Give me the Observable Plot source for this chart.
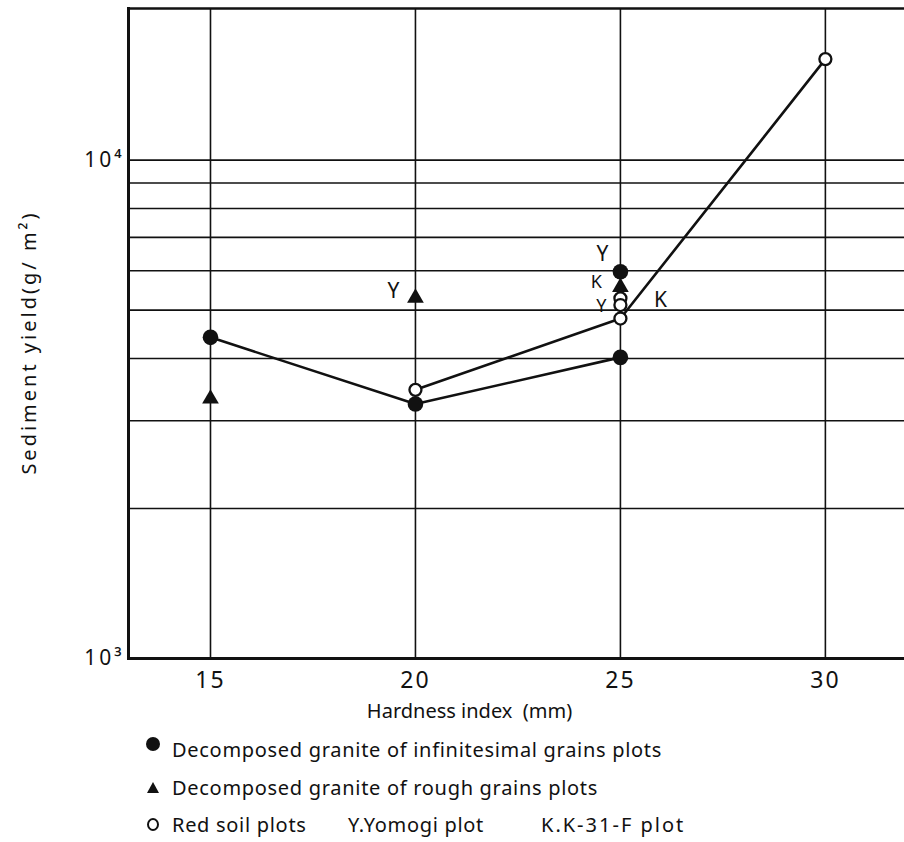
<!DOCTYPE html>
<html><head><meta charset="utf-8">
<script src="https://cdn.jsdelivr.net/npm/d3@7"></script>
<script src="https://cdn.jsdelivr.net/npm/@observablehq/plot@0.6"></script>
<style>
body{margin:0;background:#fff;font-family:"Noto Sans",sans-serif;}
#wrap{position:relative;width:904px;height:842px;overflow:hidden;}
.leg{position:absolute;font-size:20px;line-height:20px;color:#111;white-space:pre;letter-spacing:0.7px;}
.sym{position:absolute;}
</style></head><body><div id="wrap"></div>
<script>
// ---- data ----
const xTicks = [15, 20, 25, 30];
const yGrid = [2000, 3000, 4000, 5000, 6000, 7000, 8000, 9000, 10000];
const yTickValues = [1000, 10000];
const yTickLabels = ["10³", "10⁴"];

// Decomposed granite of infinitesimal grains plots (filled circles)
const fineX = [15, 20, 25, 25];
const fineY = [4410, 3240, 4020, 5970];
const fineTag = ["", "", "", "Y"];

// Decomposed granite of rough grains plots (triangles)
const roughX = [15, 20, 25];
const roughY = [3320, 5290, 5560];
const roughTag = ["", "Y", "K"];

// Red soil plots (open circles)
const redX = [20, 25, 25, 25, 30];
const redY = [3460, 4810, 5280, 5120, 15950];
const redTag = ["", "", "K", "Y", ""];

const xLabel = "Hardness index  (mm)";
const yLabel = "Sediment yield(g/ m²)";
const legendLines = [
  ["Decomposed granite of infinitesimal grains plots"],
  ["Decomposed granite of rough grains plots"],
  ["Red soil plots", "Y.Yomogi plot", "K.K-31-F plot"]
];

// ---- build tables ----
const mk = (xs, ys, tags, series) => xs.map((x, i) => ({x, y: ys[i], tag: tags[i], series}));
const fine = mk(fineX, fineY, fineTag, "fine");
const rough = mk(roughX, roughY, roughTag, "rough");
const red = mk(redX, redY, redTag, "red");
const lineData = [...fine, ...red].filter(d => d.tag === "");

const ink = "#111";
const chart = Plot.plot({
  width: 904, height: 730,
  marginLeft: 128, marginRight: 0, marginTop: 8, marginBottom: 72,
  style: {fontFamily: "Noto Sans", fontSize: "21px", color: ink, background: "white", overflow: "visible"},
  x: {domain: [13, 31.93]},
  y: {type: "log", domain: [1000, 20150]},
  marks: [
    Plot.ruleX(xTicks, {stroke: ink, strokeWidth: 1.6}),
    Plot.ruleY(yGrid, {stroke: ink, strokeWidth: 1.6}),
    Plot.frame({anchor: "left", stroke: ink, strokeWidth: 3}),
    Plot.frame({anchor: "bottom", stroke: ink, strokeWidth: 3}),
    Plot.frame({anchor: "top", stroke: ink, strokeWidth: 2.6}),
    Plot.axisX({ticks: xTicks, tickSize: 0, tickPadding: 13, label: null, fontSize: 23}),
    Plot.axisY({ticks: yTickValues, tickFormat: d => yTickLabels[yTickValues.indexOf(d)], tickSize: 0, tickPadding: 4, label: null, fontSize: 21}),
    Plot.text([xLabel], {frameAnchor: "bottom", textAnchor: "middle", lineAnchor: "middle", dx: -47, dy: 53, fontSize: 20}),
    Plot.text([yLabel], {frameAnchor: "left", textAnchor: "middle", lineAnchor: "middle", dx: -99, dy: 9, rotate: -90, fontSize: 20}),
    Plot.line(lineData, {x: "x", y: "y", z: "series", stroke: ink, strokeWidth: 2.6}),
    Plot.dot(rough, {x: "x", y: "y", symbol: "triangle", r: 6.2, fill: ink, stroke: "none"}),
    Plot.dot(red, {x: "x", y: "y", r: 6, fill: "white", stroke: ink, strokeWidth: 2.3}),
    Plot.dot(fine, {x: "x", y: "y", r: 7.8, fill: ink, stroke: "none"}),
    // point labels
    Plot.text(rough.filter(d => d.tag === "Y"), {x: "x", y: "y", text: "tag", dx: -22, dy: -7, fontSize: 21}),
    Plot.text(fine.filter(d => d.tag === "Y"), {x: "x", y: "y", text: "tag", dx: -18, dy: -18, fontSize: 21}),
    Plot.text(rough.filter(d => d.tag === "K"), {x: "x", y: "y", text: "tag", dx: -24, dy: -5, fontSize: 18}),
    Plot.text(red.filter(d => d.tag === "Y"), {x: "x", y: "y", text: "tag", dx: -19, dy: 1, fontSize: 18}),
    Plot.text(red.filter(d => d.tag === "K"), {x: "x", y: "y", text: "tag", dx: 40, dy: 2, fontSize: 21})
  ]
});
const wrap = document.getElementById("wrap");
wrap.appendChild(chart);

// letter spacing to mimic the wide face of the original
const svg = d3.select(chart);
svg.selectAll('g[aria-label="x-axis tick label"] text').attr("letter-spacing", "2px");
svg.selectAll('g[aria-label="y-axis tick label"] text').attr("letter-spacing", "3px");
svg.selectAll("text").filter(function() { return this.textContent === yLabel; }).attr("letter-spacing", "3px");

// legend below the chart
const symStyles = [
  "left:146px;top:737px;width:14px;height:14px;border-radius:50%;background:#111;",
  "left:147px;top:782px;width:0;height:0;border-left:6px solid transparent;border-right:6px solid transparent;border-bottom:11px solid #111;",
  "left:147px;top:818px;width:8px;height:9px;border-radius:50%;border:2px solid #111;"
];
const partLeft = [172, 348, 541];
legendLines.forEach((parts, i) => {
  const top = 740 + i * 37.5;
  const s = document.createElement("div");
  s.className = "sym";
  s.style.cssText = symStyles[i];
  wrap.appendChild(s);
  parts.forEach((t, j) => {
    const d = document.createElement("div");
    d.className = "leg";
    d.textContent = t;
    d.style.left = partLeft[j] + "px";
    d.style.top = top + "px";
    if (j === 2) d.style.letterSpacing = "2px";
    wrap.appendChild(d);
  });
});
</script></body></html>
